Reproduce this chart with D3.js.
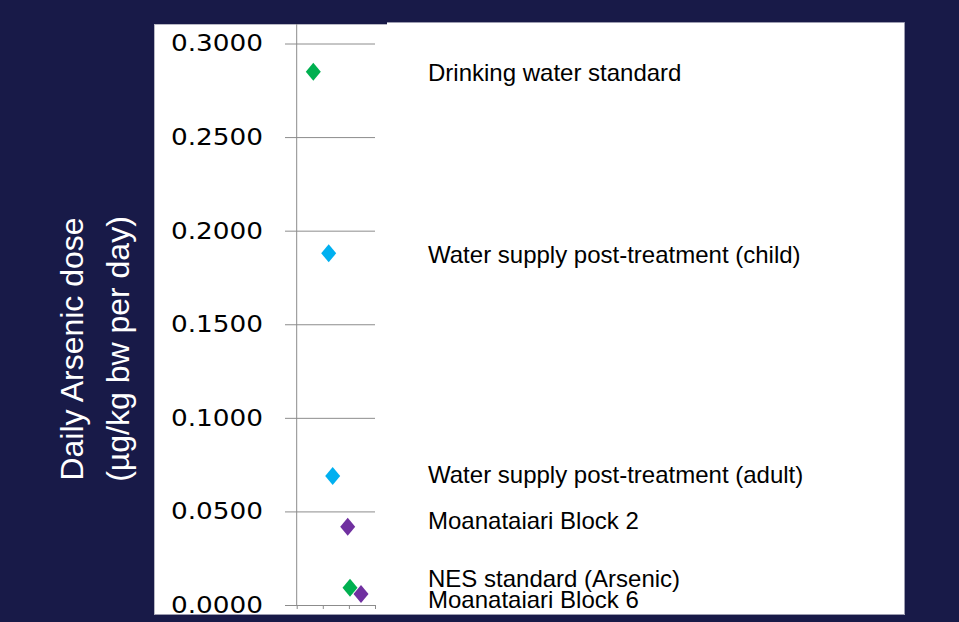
<!DOCTYPE html>
<html><head><meta charset="utf-8">
<script src="https://cdn.jsdelivr.net/npm/d3@7"></script>
<style>html,body{margin:0;padding:0;background:#181a48;}svg{display:block;}</style>
</head><body>
<script>
// ---- data ----
const labels = ["Drinking water standard","Water supply post-treatment (child)","Water supply post-treatment (adult)","Moanataiari Block 2","NES standard (Arsenic)","Moanataiari Block 6"];
const xValues = [0.636, 1.226, 1.379, 1.954, 2.042, 2.464];
const doseValues = [0.2849, 0.1879, 0.0689, 0.0418, 0.0092, 0.0059];
const labelAt = [0.2845, 0.1873, 0.0695, 0.0449, 0.0141, 0.0027];
const pointColors = ["#00b050","#00b0f0","#00b0f0","#7030a0","#00b050","#7030a0"];
const yTicks = [0, 0.05, 0.10, 0.15, 0.20, 0.25, 0.30];
const xTicks = [0, 1, 2, 3];
const yTitle = ["Daily Arsenic dose", "(\u00b5g/kg bw per day)"];

const W = 959, H = 622;
const svg = d3.select("body").append("svg").attr("width", W).attr("height", H);
svg.append("rect").attr("width", W).attr("height", H).attr("fill", "#181a48");
// white panel
svg.append("rect").attr("x", 154.5).attr("y", 24.5).attr("width", 750).attr("height", 590)
  .attr("fill", "#fff").attr("stroke", "#b8b8c4").attr("stroke-width", 1);
svg.append("rect").attr("x", 387).attr("y", 22.5).attr("width", 517.5).attr("height", 592)
  .attr("fill", "#fff");
svg.append("path").attr("d", "M387,22.5H904.5V614.5H154.5")
  .attr("fill", "none").attr("stroke", "#9c9cb0").attr("stroke-width", 1);

const x = d3.scaleLinear().domain([0, 3]).range([296.7, 375]);
const y = d3.scaleLinear().domain([0, 0.3]).range([605, 43.5]);

// y axis with gridlines (ticks drawn from right end leftwards)
const gy = svg.append("g").attr("transform", `translate(${x(3)},0)`)
  .call(d3.axisLeft(y).tickValues(yTicks).tickSize(x(3) - 285).tickPadding(22)
    .tickFormat(d3.format(".4f")));
gy.select(".domain").remove();
gy.selectAll(".tick line").attr("stroke", "#8c8c8c").attr("stroke-width", 1);
gy.selectAll(".tick text").attr("fill", "#000")
  .style("font-family", "'DejaVu Sans', Verdana, sans-serif").style("font-size", "23px")
  .attr("textLength", 92).attr("lengthAdjust", "spacingAndGlyphs");

// vertical axis line
svg.append("line").attr("x1", x(0)).attr("x2", x(0)).attr("y1", 24).attr("y2", y(0))
  .attr("stroke", "#8c8c8c").attr("stroke-width", 1);

// x axis
const gx = svg.append("g").attr("transform", `translate(0,${y(0)})`)
  .call(d3.axisBottom(x).tickValues(xTicks).tickSize(4).tickSizeOuter(0).tickFormat(""));
gx.select(".domain").attr("stroke", "#8c8c8c");
gx.selectAll(".tick line").attr("stroke", "#8c8c8c");

// points
const diamond = (cx, cy) => `M${cx},${cy-9}L${cx+7.5},${cy}L${cx},${cy+9}L${cx-7.5},${cy}Z`;
svg.append("g").selectAll("path").data(doseValues).join("path")
  .attr("d", (d, i) => diamond(x(xValues[i]), y(d)))
  .attr("fill", (d, i) => pointColors[i]);

// labels
svg.append("g").selectAll("text").data(labels).join("text")
  .attr("x", 428).attr("y", (d, i) => y(labelAt[i]))
  .attr("dominant-baseline", "central")
  .style("font-family", "'Liberation Sans', Arial, sans-serif").style("font-size", "24px")
  .attr("fill", "#000").text(d => d);

// y title
const yt = svg.append("g").attr("transform", "translate(0,349) rotate(-90)");
yt.selectAll("text").data(yTitle).join("text")
  .attr("x", 0).attr("y", (d, i) => 83 + i * 46)
  .attr("text-anchor", "middle").attr("fill", "#fff")
  .style("font-family", "'Liberation Sans', Arial, sans-serif").style("font-size", "32px")
  .text(d => d);
</script>
</body></html>
